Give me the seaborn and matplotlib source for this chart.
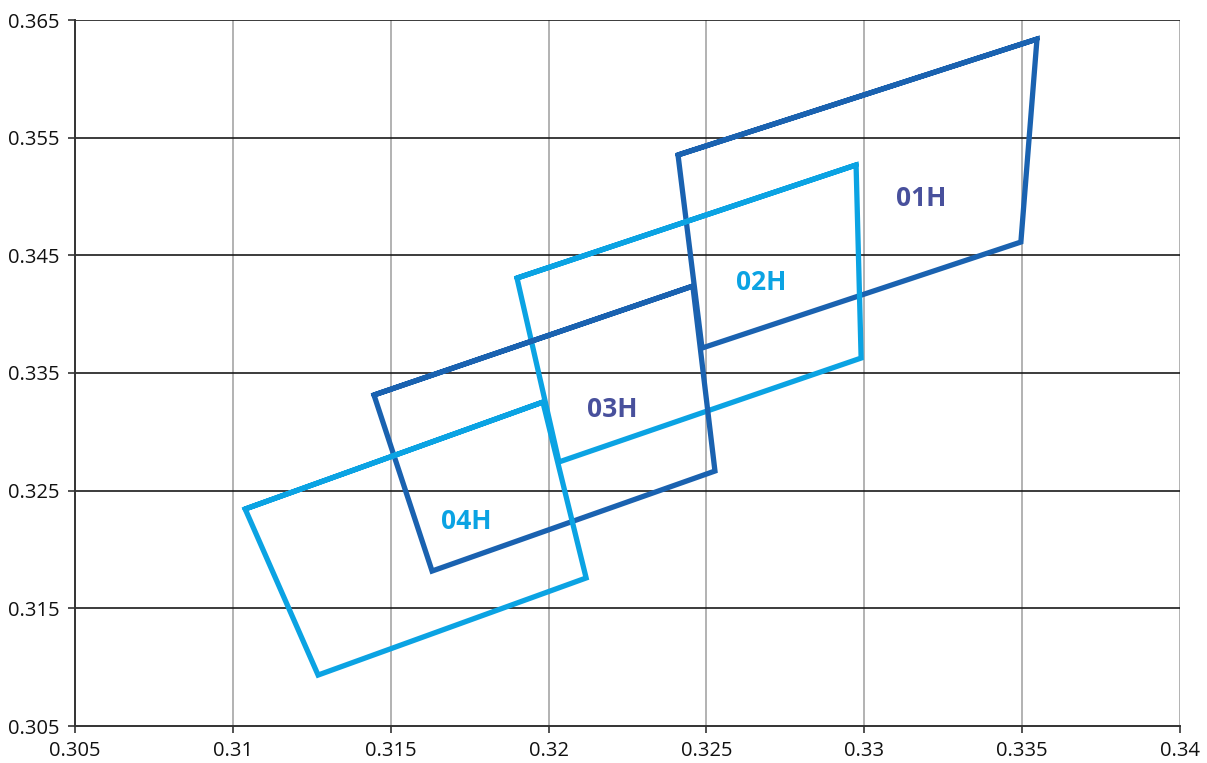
import matplotlib
matplotlib.use("Agg")
import matplotlib.pyplot as plt
import seaborn as sns
import pandas as pd

# Corner coordinates of each quadrangle (x, y chromaticity), drawn in order and closed
names = ["01H", "02H", "03H", "04H"]
x_01H = [0.32410, 0.33547, 0.33496, 0.32486]
y_01H = [0.35353, 0.36338, 0.34613, 0.33712]
x_02H = [0.31900, 0.32974, 0.32990, 0.32033]
y_02H = [0.34307, 0.35268, 0.33627, 0.32744]
x_03H = [0.31447, 0.32457, 0.32527, 0.31631]
y_03H = [0.33313, 0.34239, 0.32667, 0.31817]
x_04H = [0.31039, 0.31982, 0.32119, 0.31270]
y_04H = [0.32344, 0.33253, 0.31758, 0.30933]

# Label anchor positions
label_x = [0.33180, 0.32673, 0.32201, 0.31738]
label_y = [0.34987, 0.34273, 0.33194, 0.32234]

x_ticks = [0.305, 0.31, 0.315, 0.32, 0.325, 0.33, 0.335, 0.34]
x_tick_labels = ["0.305", "0.31", "0.315", "0.32", "0.325", "0.33", "0.335", "0.34"]
y_ticks = [0.305, 0.315, 0.325, 0.335, 0.345, 0.355, 0.365]
y_tick_labels = ["0.305", "0.315", "0.325", "0.335", "0.345", "0.355", "0.365"]

dark_blue = "#1a62b0"
light_blue = "#0ba3e3"
label_dark = "#48509c"
line_colors = [dark_blue, light_blue, dark_blue, light_blue]
text_colors = [label_dark, light_blue, label_dark, light_blue]

xs = [x_01H, x_02H, x_03H, x_04H]
ys = [y_01H, y_02H, y_03H, y_04H]

sns.set_theme(style="white")
plt.rcParams["font.family"] = ["Open Sans", "DejaVu Sans"]

fig = plt.figure(figsize=(12.07, 7.63), dpi=100)
ax = fig.add_axes([75 / 1207, 1 - 726 / 763, (1180 - 75) / 1207, (726 - 20) / 763])

for name, xv, yv, col in zip(names, xs, ys, line_colors):
    # repeat the first two corners so every corner gets a mitred join
    df = pd.DataFrame({"x": xv + xv[:2], "y": yv + yv[:2]})
    sns.lineplot(data=df, x="x", y="y", sort=False, estimator=None,
                 color=col, linewidth=3.8, ax=ax, zorder=3,
                 solid_joinstyle="miter")

for name, lx, ly, col in zip(names, label_x, label_y, text_colors):
    ax.text(lx, ly, name, color=col, fontsize=19, fontweight="bold",
            ha="center", va="center", zorder=4)

ax.set_xlim(0.305, 0.34)
ax.set_ylim(0.305, 0.365)
ax.set_xticks(x_ticks)
ax.set_xticklabels(x_tick_labels)
ax.set_yticks(y_ticks)
ax.set_yticklabels(y_tick_labels)
ax.set_xlabel("")
ax.set_ylabel("")

for xv in x_ticks[1:]:
    ax.axvline(xv, color="#a6a6a6", linewidth=1.2, zorder=1)
for yv in y_ticks[1:]:
    ax.axhline(yv, color="#1a1a1a", linewidth=1.2, zorder=1)

for side in ["top", "right"]:
    ax.spines[side].set_visible(False)
ax.spines["left"].set_color("#333333")
ax.spines["bottom"].set_color("#333333")
ax.spines["left"].set_linewidth(1.4)
ax.spines["bottom"].set_linewidth(1.4)
ax.tick_params(axis="both", which="major", direction="out", length=5,
               width=1.2, color="#333333", labelsize=14.5, labelcolor="#111111",
               left=True, bottom=True, pad=6)

fig.savefig("out.png", dpi=100)
